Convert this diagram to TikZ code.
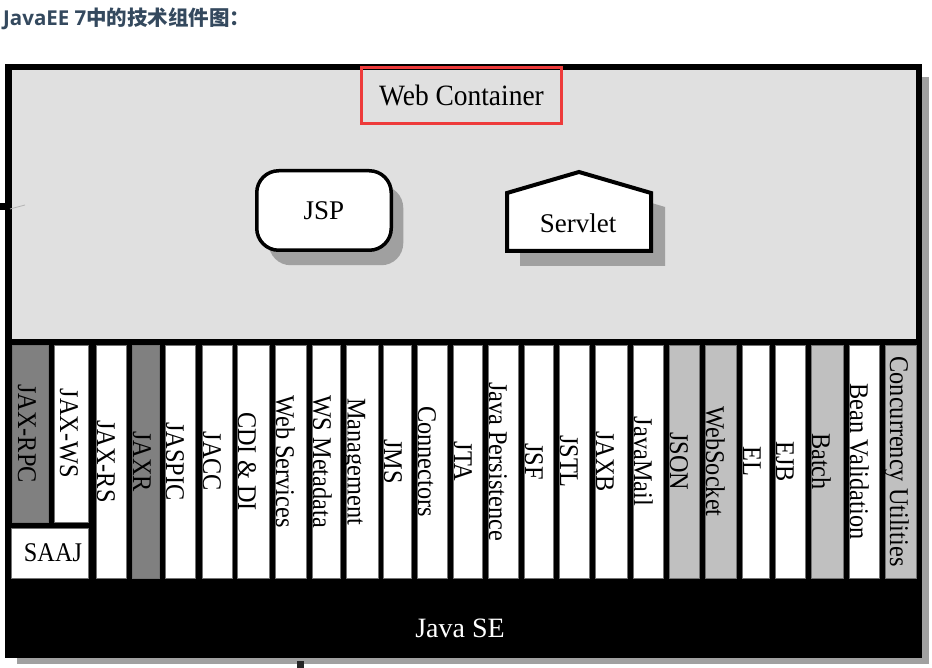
\documentclass[tikz,border=0pt]{standalone}
\usepackage{fontspec}
\setmainfont{Liberation Serif}
\newfontfamily\cjk{Noto Sans CJK SC}
\newfontfamily\titlelat{Open Sans}
\definecolor{titlecol}{HTML}{34495E}
\definecolor{wcbg}{HTML}{E0E0E0}
\definecolor{darkg}{HTML}{808080}
\definecolor{lightg}{HTML}{C0C0C0}
\definecolor{shadowg}{HTML}{A0A0A0}
\definecolor{redbox}{HTML}{EE3B3B}
\begin{document}
\begin{tikzpicture}[x=1pt,y=-1pt,
  colbox/.style={rectangle, draw=black!55, line width=0.6pt, inner sep=0pt, outer sep=0pt},
  collabel/.style={rotate=-90, anchor=base, inner sep=0pt, font=\fontsize{27}{30}\selectfont},
  bigtext/.style={inner sep=0pt, font=\fontsize{27}{30}\selectfont},
  shapeline/.style={draw=black, line width=3.5pt, fill=white}]
\useasboundingbox (0,0) rectangle (932,668);
\fill[white] (0,0) rectangle (932,668);

% title
\node[anchor=base west, inner sep=0pt, text=titlecol] (title) at (3,25.5)
  {\fontsize{20.5}{24}\selectfont\titlelat\bfseries JavaEE 7\cjk 中的技术组件图：};

% frame with shadow
\fill[shadowg] (17,77) rectangle (929,664);
\fill[black] (5,64) rectangle (922,658);
\fill[wcbg] (12,70.5) rectangle (915.5,339);

% small marks
\fill[black] (0,203) rectangle (5,210);
\draw[gray!60, line width=0.8pt] (10,209) -- (25,205);
\fill[black!85] (297,661) rectangle (304,668);

% Web container label
\node[draw=redbox, line width=3.5pt, minimum width=199.6pt, minimum height=55.6pt,
      inner sep=0pt, font=\fontsize{29.5}{32}\selectfont] (wc) at (461.5,95.5)
  {\scalebox{0.93}[1]{Web Container}};

% JSP
\fill[shadowg, rounded corners=22pt] (268.75,185.75) rectangle (403.25,265.25);
\node[shapeline, rounded corners=22pt, minimum width=134.5pt, minimum height=79.5pt,
      bigtext] (jsp) at (324,210.5) {JSP};

% Servlet
\fill[shadowg] (520,207) -- (592,185) -- (665,207) -- (665,266) -- (520,266) -- cycle;
\draw[draw=black, line width=4pt, fill=white, line join=miter]
  (507,193) -- (579,172) -- (651,193) -- (651,251) -- (507,251) -- cycle;
\node[bigtext] (servlet) at (578,223) {Servlet};

% columns
\foreach \i/\xa/\xb/\yb/\col/\off/\txt in {
  1/12.7/48.3/522/darkg/5.5/JAX-RPC,
  2/54/88/522/white/6/JAX-WS,
  3/96/126/578/white/1/JAX-RS,
  4/132/159/578/darkg/1/JAXR,
  5/165/195/578/white/1/JASPIC,
  6/202/232/578/white/1/JACC,
  7/237/269/578/white/1/CDI \& DI,
  8/275/306/578/white/1/Web Services,
  9/312/340/578/white/1/WS Metadata,
  10/346/378/578/white/1.5/Management,
  11/383/411/578/white/1/JMS,
  12/417/447/578/white/1/Connectors,
  13/453/482/578/white/1/JTA,
  14/488/518/578/white/1/Java Persistence,
  15/524/553/578/white/1/JSF,
  16/559/589/578/white/1/JSTL,
  17/595/627/578/white/1/JAXB,
  18/633/663/578/white/1/JavaMail,
  19/669/699/578/lightg/1/JSON,
  20/705/736/578/lightg/1/WebSocket,
  21/742/769/578/white/1/EL,
  22/775/805/578/white/1/EJB,
  23/811/843/578/lightg/1/Batch,
  24/849/879/578/white/1/Bean Validation,
  25/885/916/578/lightg/5/Concurrency Utilities}{
  \node[colbox, fill=\col, minimum width={(\xb-\xa)*1pt}, minimum height={(\yb-345)*1pt}]
    (c\i) at ({(\xa+\xb)/2},{(345+\yb)/2}) {};
  \node[collabel] (l\i) at ({\xa+\off},{(345+\yb)/2}) {\scalebox{0.9}[1]{\txt}};
}

% SAAJ
\node[colbox, fill=white, minimum width=77pt, minimum height=50pt] (saaj) at (49.5,553) {};
\node[inner sep=0pt, font=\fontsize{27}{30}\selectfont] (saajl) at (53,553) {\scalebox{0.9}[1]{SAAJ}};

% Java SE
\node[text=white, inner sep=0pt, font=\fontsize{28}{32}\selectfont] (javase) at (460,628) {Java SE};
\end{tikzpicture}
\end{document}
